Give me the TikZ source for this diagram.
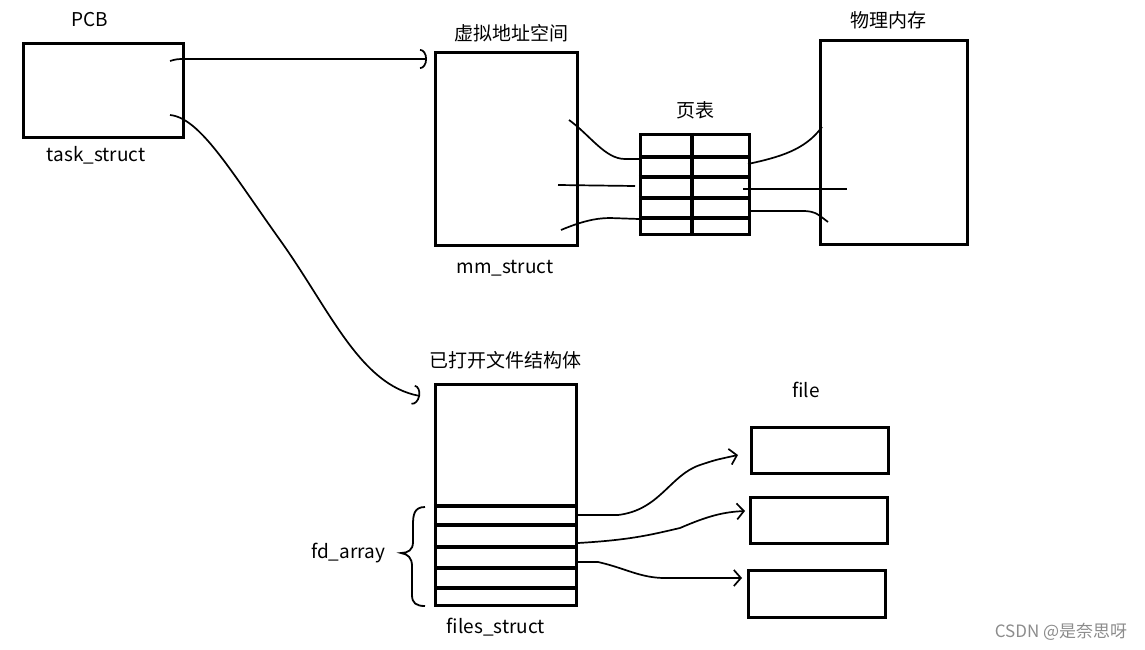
\documentclass[tikz,border=0pt]{standalone}
\usepackage{fontspec}
\setmainfont{Noto Sans CJK SC}
\usetikzlibrary{arrows.meta}
\begin{document}
\begin{tikzpicture}[x=1pt,y=-1pt,
  box/.style={draw, line width=3.2pt, inner sep=0pt},
  lbl/.style={font=\fontsize{19}{22}\selectfont, inner sep=0pt},
  wire/.style={line width=1.7pt},
  hook/.style={wire, -{Arc Barb[length=7pt,width=20pt,line width=1.7pt]}},
  barb/.style={wire, -{Straight Barb[length=7pt,width=16pt,line width=1.7pt]}}]
\useasboundingbox (0,0) rectangle (1145,650);
% boxes
\node[box, minimum width=160pt, minimum height=94pt] (pcb) at (103.5,90.5) {};
\node[box, minimum width=142pt, minimum height=193pt] (vas) at (506.5,149) {};
\node[box, minimum width=109pt, minimum height=100pt] (pt) at (695,184.5) {};
\node[box, minimum width=147pt, minimum height=204pt] (pm) at (894,142.5) {};
\node[box, minimum width=141pt, minimum height=221pt] (fs) at (506,495) {};
\node[box, minimum width=137pt, minimum height=46pt] (f1) at (820,450.5) {};
\node[box, minimum width=137pt, minimum height=46pt] (f2) at (819,520.5) {};
\node[box, minimum width=137pt, minimum height=47pt] (f3) at (817,594) {};
% page table grid
\draw[line width=3.2pt] (pt.north -| 692,0) -- (pt.south -| 692,0);
\foreach \yy in {157,177,198,218} \draw[line width=3.2pt] (pt.west |- 0,\yy) -- (pt.east |- 0,\yy);
% fd array rows
\foreach \yy in {506,525,547,568,588} \draw[line width=3.2pt] (fs.west |- 0,\yy) -- (fs.east |- 0,\yy);
% labels
\node[lbl] (lpcb) at (90,20) {PCB};
\node[lbl] (ltask) at (96,155) {task\_struct};
\node[lbl] (lvas) at (511,33) {虚拟地址空间};
\node[lbl] (lmm) at (505,268) {mm\_struct};
\node[lbl] (lpt) at (695,110) {页表};
\node[lbl] (lpm) at (888,20) {物理内存};
\node[lbl] (lfs) at (505,360) {已打开文件结构体};
\node[lbl] (lfile) at (806,390) {file};
\node[lbl] (lfd) at (348,553) {fd\_array};
\node[lbl] (lfiles) at (496,627) {files\_struct};
\node[font=\fontsize{17}{20}\selectfont, text=black!45, inner sep=0pt] (wm) at (1061,632) {CSDN @是奈思呀};
% PCB arrows
\coordinate (p1) at (170,61);
\coordinate (p2) at (170,115);
\coordinate (v1) at (427,59);
\coordinate (s1) at (420,396);
\draw[hook] (p1) .. controls (177,59) .. (186,59) -- (v1);
\draw[hook] (p2) .. controls (200,118) and (230,170) .. (280,240) .. controls (330,310) and (360,385) .. (s1);
% virtual -> page table
\coordinate (a1) at (569,120);
\coordinate (a2) at (558,185);
\coordinate (a3) at (561,230);
\draw[wire] (a1) .. controls (590,135) and (605,159) .. (625,159) -- (pt.west |- 0,159);
\draw[wire] (a2) -- (635,186);
\draw[wire] (a3) .. controls (580,222) and (595,218) .. (610,218) -- (pt.west |- 0,219);
% page table -> physical
\coordinate (b1) at (822,127);
\coordinate (b2) at (847,189);
\coordinate (b3) at (828,222);
\draw[wire] (748,164) .. controls (780,157) and (805,150) .. (b1);
\draw[wire] (743,189) -- (b2);
\draw[wire] (750,211) -- (805,211) .. controls (815,212) .. (b3);
% brace
\draw[line width=1.8pt] (425,507) .. controls (414,507) and (413,515) .. (413,525) -- (413,542) .. controls (413,550) and (408,553) .. (401,553) .. controls (408,554) and (412,558) .. (412,566) -- (412,595) .. controls (412,603) and (416,606) .. (425,606);
% fd -> files
\coordinate (c1) at (578,515);
\coordinate (c2) at (578,543);
\coordinate (c3) at (578,562);
\draw[barb] (c1) -- (618,515) .. controls (660,510) and (670,475) .. (700,465) .. controls (715,460) .. (738,455);
\draw[barb] (c2) .. controls (630,540) and (650,535) .. (680,528) .. controls (710,515) and (725,512) .. (745,511);
\draw[barb] (c3) -- (598,562) .. controls (625,568) and (640,578) .. (665,578) -- (742,578);
\end{tikzpicture}
\end{document}
